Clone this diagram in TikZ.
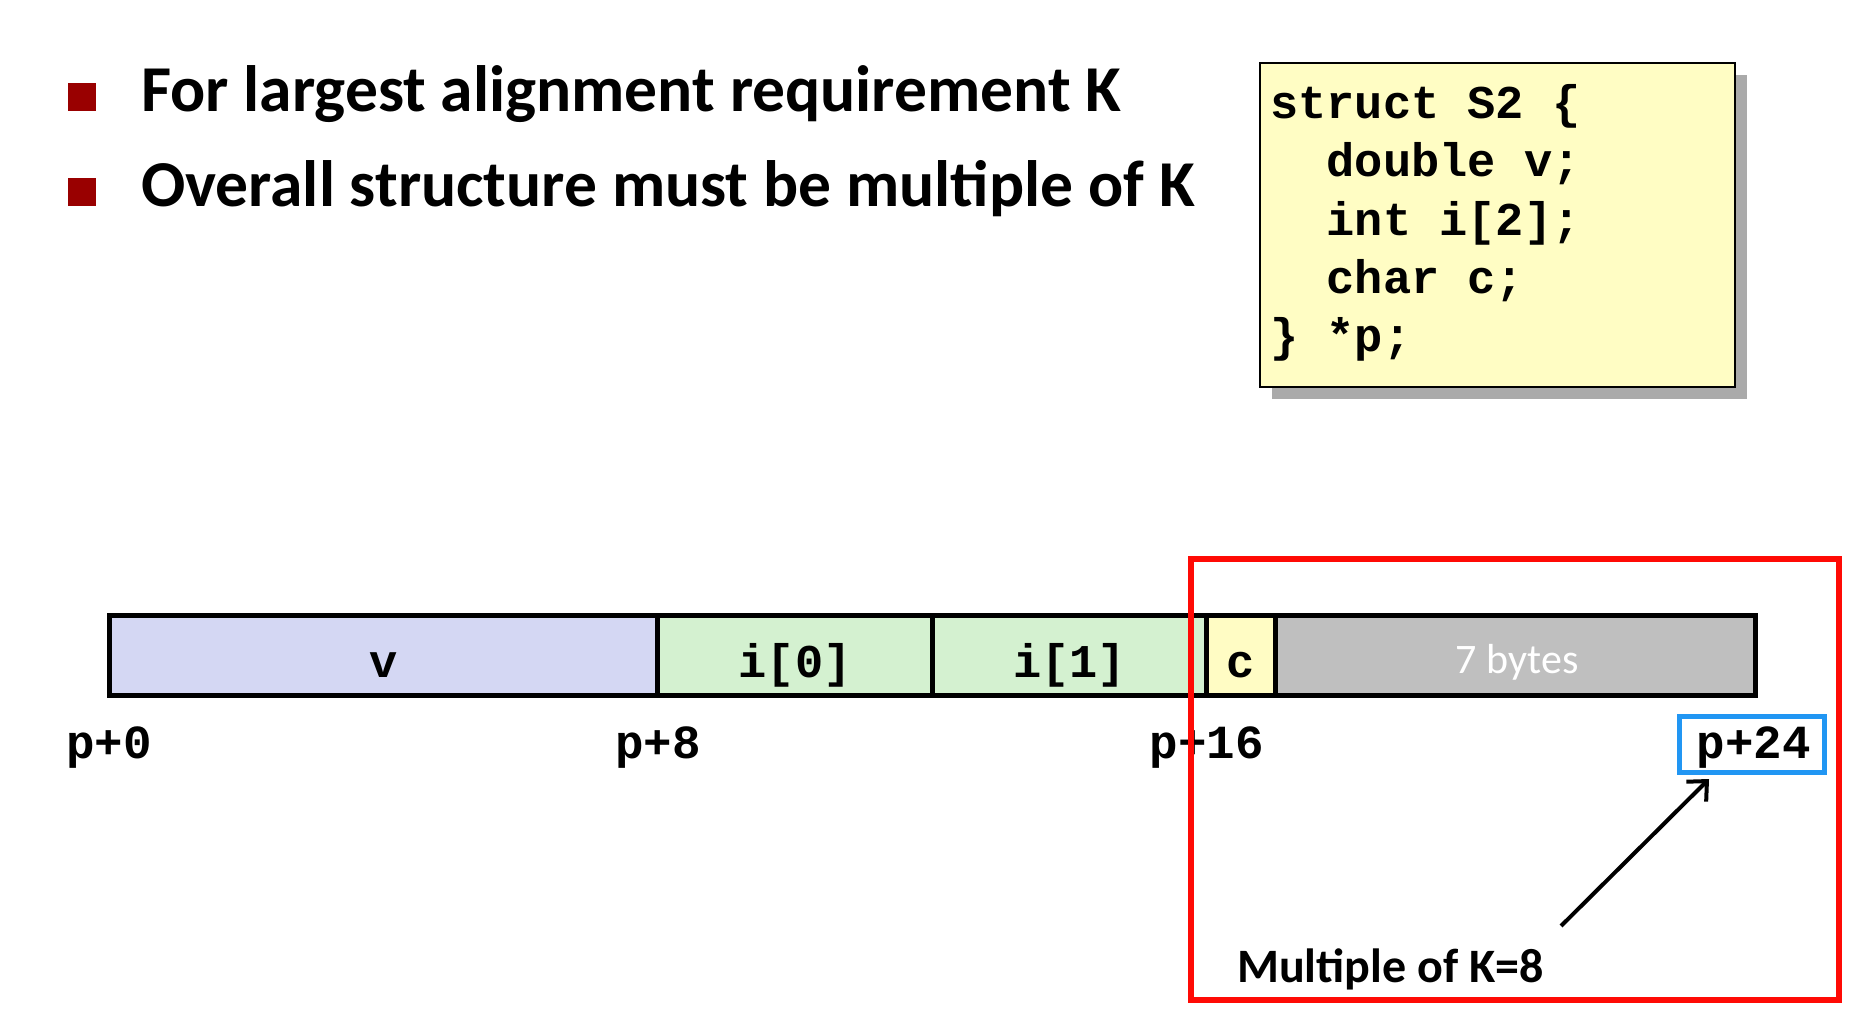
\documentclass[tikz,border=0pt]{standalone}
\usepackage{fontspec}
\setmainfont{Carlito}
\newfontfamily\codefont{Liberation Mono}
\usetikzlibrary{arrows.meta,shadows}
\definecolor{vfill}{RGB}{212,215,243}
\definecolor{ifill}{RGB}{212,241,208}
\definecolor{cfill}{RGB}{255,252,196}
\definecolor{padfill}{RGB}{191,191,191}
\definecolor{codefill}{RGB}{255,253,196}
\definecolor{shadowgray}{RGB}{170,170,170}
\definecolor{bulletred}{RGB}{153,0,0}
\definecolor{hiblue}{RGB}{33,150,243}
\definecolor{hired}{RGB}{255,10,5}
\tikzset{
  bulletsq/.style={fill=bulletred,draw=none,minimum width=28pt,minimum height=28pt,inner sep=0pt},
  bullettext/.style={anchor=base west,inner sep=0pt,font=\fontsize{65.5}{75}\selectfont\bfseries},
  codebox/.style={draw=black,line width=2.8pt,fill=codefill,inner sep=0pt,
    drop shadow={shadow xshift=12pt,shadow yshift=-12pt,fill=shadowgray,opacity=1}},
  codeline/.style={anchor=base west,inner sep=0pt,font=\codefont\bfseries\fontsize{47}{56}\selectfont},
  cell/.style={draw=black,line width=5pt,inner sep=0pt,minimum height=80pt},
  cellfont/.style={anchor=base,inner sep=0pt,font=\codefont\bfseries\fontsize{47}{56}\selectfont},
  addr/.style={anchor=base,inner sep=0pt,font=\codefont\bfseries\fontsize{47.5}{56}\selectfont},
  padtext/.style={anchor=base,inner sep=0pt,text=white,font=\fontsize{42}{50}\selectfont},
  notetext/.style={anchor=base west,inner sep=0pt,font=\fontsize{48}{56}\selectfont\bfseries},
  blueframe/.style={draw=hiblue,line width=5pt,inner sep=0pt},
  redframe/.style={draw=hired,line width=6pt,inner sep=0pt},
  pointer/.style={draw=black,line width=4pt,-{Straight Barb[length=15pt,width=28pt,line width=4pt]}}
}
\begin{document}
\begin{tikzpicture}[x=1pt,y=-1pt]
\useasboundingbox[fill=white] (0,0) rectangle (1851,1010);
% bullets
\node[bulletsq] (b1) at (81.5,97) {};
\node[bulletsq] (b2) at (81.5,192) {};
\node[bullettext] (t1) at (141,111) {For largest alignment requirement K};
\node[bullettext] (t2) at (141,206) {Overall structure must be multiple of K};
% code box
\node[codebox,minimum width=475pt,minimum height=324pt,anchor=north west] (code) at (1258.5,61.5) {};
\node[codeline] (c1) at (1270,118) {struct S2 \{};
\node[codeline] (c2) at (1326.4,176) {double v;};
\node[codeline] (c3) at (1326.4,235) {int i[2];};
\node[codeline] (c4) at (1326.4,293) {char c;};
\node[codeline] (c5) at (1270,351) {\} *p;};
% memory bar
\node[cell,fill=vfill,minimum width=548.8pt] (v) at (383.4,655.5) {};
\node[cell,fill=ifill,minimum width=274.4pt] (i0) at (795,655.5) {};
\node[cell,fill=ifill,minimum width=274.4pt] (i1) at (1069.4,655.5) {};
\node[cell,fill=cfill,minimum width=68.6pt] (c) at (1240.9,655.5) {};
\node[cell,fill=padfill,minimum width=480.2pt] (pad) at (1515.3,655.5) {};
\node[cellfont] (vl) at (383.4,677) {v};
\node[cellfont] (i0l) at (795,677) {i[0]};
\node[cellfont] (i1l) at (1069.4,677) {i[1]};
\node[cellfont] (cl) at (1240.9,677) {c};
\node[padtext] (padl) at (1517,673) {7 bytes};
% addresses
\node[addr] (a0) at (109,758) {p+0};
\node[addr] (a8) at (657.8,758) {p+8};
\node[addr] (a16) at (1206.6,758) {p+16};
\node[addr] (a24) at (1753.5,758) {p+24};
% highlight
\node[blueframe,minimum width=145pt,minimum height=56pt] (box24) at (1751.5,744) {};
\node[notetext] (mult) at (1237,982) {Multiple of K=8};
\coordinate (astart) at (1561,926);
\coordinate (atip) at (1709,779);
\draw[pointer] (astart) -- (atip);
\node[redframe,minimum width=648pt,minimum height=441pt] (red) at (1515,779.5) {};
\end{tikzpicture}
\end{document}
